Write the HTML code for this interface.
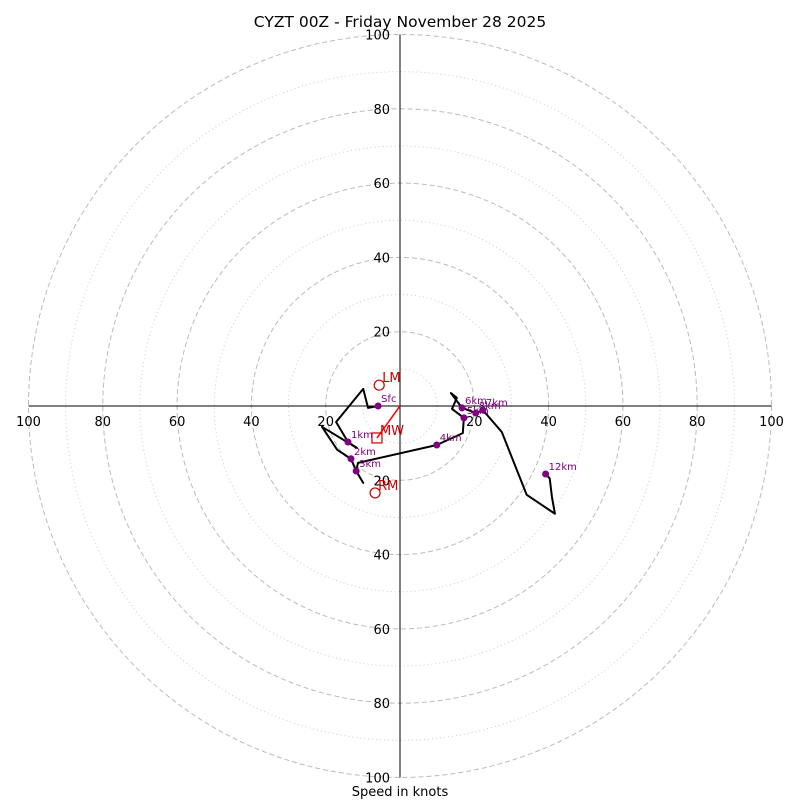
<!DOCTYPE html>
<html><head><meta charset="utf-8"><style>
body{margin:0;background:#fff}
svg text{font-family:"DejaVu Sans","Liberation Sans",sans-serif}
</style></head><body>
<svg id="chart" width="800" height="800" xmlns="http://www.w3.org/2000/svg">
<rect width="800" height="800" fill="#fff"/>
<text x="400" y="27" text-anchor="middle" font-size="15.5">CYZT 00Z - Friday November 28 2025</text>
<text x="400" y="796" text-anchor="middle" font-size="13">Speed in knots</text>
<g id="rings"></g><g id="axes"></g><g id="trace"></g><g id="marks"></g>
</svg>
<script>
const ringSpeeds=[10,20,30,40,50,60,70,80,90,100];
const tickValues=[20,40,60,80,100];
const pathU=[-5.9,-8.6,-9.9,-17.2,-14.0,-11.6,-21.0,-16.9,-13.2,-11.8,-9.9,-11.8,-11.3,9.9,16.9,17.2,14.0,15.3,13.7,16.7,20.4,22.3,27.4,34.1,41.7,40.9,40.3,39.2];
const pathV=[0,-0.5,4.6,-4.3,-9.7,-11.3,-5.6,-11.8,-14.2,-17.5,-20.7,-17.5,-15.3,-10.5,-7.3,-3.2,-0.8,2.2,3.5,-0.5,-1.9,-1.1,-7.0,-23.9,-29.0,-24.5,-19.5,-18.3];
const levelNames=["Sfc","1km","2km","3km","4km","5km","6km","7km","8km","12km"];
const levelU=[-5.9,-14.0,-13.2,-11.8,9.9,17.2,16.7,22.3,20.4,39.2];
const levelV=[0,-9.7,-14.2,-17.5,-10.5,-3.2,-0.5,-1.1,-1.9,-18.3];
const motionNames=["LM","RM","MW"];
const motionU=[-5.6,-6.7,-6.2];
const motionV=[5.6,-23.4,-8.6];
const NS="http://www.w3.org/2000/svg",cx=400,cy=406,k=3.715;
const X=u=>cx+u*k,Y=v=>cy-v*k;
function mk(t,a,p){const e=document.createElementNS(NS,t);for(const n in a)e.setAttribute(n,a[n]);p.appendChild(e);return e;}
const rings=document.getElementById('rings'),axes=document.getElementById('axes'),trace=document.getElementById('trace'),marks=document.getElementById('marks');
ringSpeeds.forEach(s=>{const major=s%20===0;
 const c=mk('circle',{cx:cx,cy:cy,r:s*k,fill:'none',stroke:major?'#bbb':'#ccc','stroke-width':1,'stroke-dasharray':major?'5,3':'1,3'},rings);
 
 });
const hx=mk('line',{x1:X(-100),y1:cy,x2:X(100),y2:cy,stroke:'#000'},axes);


const vy=mk('line',{x1:cx,y1:Y(100),x2:cx,y2:Y(-100),stroke:'#000'},axes);


tickValues.forEach(t=>{[-1,1].forEach(sg=>{
 const a=mk('text',{x:X(sg*t),y:cy+20,'text-anchor':'middle','font-size':13},axes);a.textContent=t;
 
 
 const b=mk('text',{x:cx-10,y:Y(sg*t)+5,'text-anchor':'end','font-size':13},axes);b.textContent=t;
 
 });});
const pl=mk('polyline',{points:pathU.map((u,i)=>X(u)+','+Y(pathV[i])).join(' '),fill:'none',stroke:'#000','stroke-width':2,'stroke-linejoin':'round'},trace);


levelNames.forEach((n,i)=>{
 const d=mk('circle',{cx:X(levelU[i]),cy:Y(levelV[i]),r:3.5,fill:'purple'},marks);
 
 
 const t=mk('text',{x:X(levelU[i])+3,y:Y(levelV[i])-4,'font-size':10,fill:'purple'},marks);t.textContent=n;
 
 });
const mw=mk('line',{x1:cx,y1:cy,x2:X(motionU[2]),y2:Y(motionV[2]),stroke:'red','stroke-width':1.5},marks);


motionNames.forEach((n,i)=>{const x=X(motionU[i]),y=Y(motionV[i]);
 const m=n==='MW'?mk('rect',{x:x-5,y:y-5,width:10,height:10,fill:'none',stroke:'#c00','stroke-width':1.2},marks):mk('circle',{cx:x,cy:y,r:5,fill:'none',stroke:'#c00','stroke-width':1.2},marks);
 
 
 const t=mk('text',{x:x+3,y:y-3,'font-size':13,fill:'#c00'},marks);t.textContent=n;
 
 });
</script>
</body></html>
